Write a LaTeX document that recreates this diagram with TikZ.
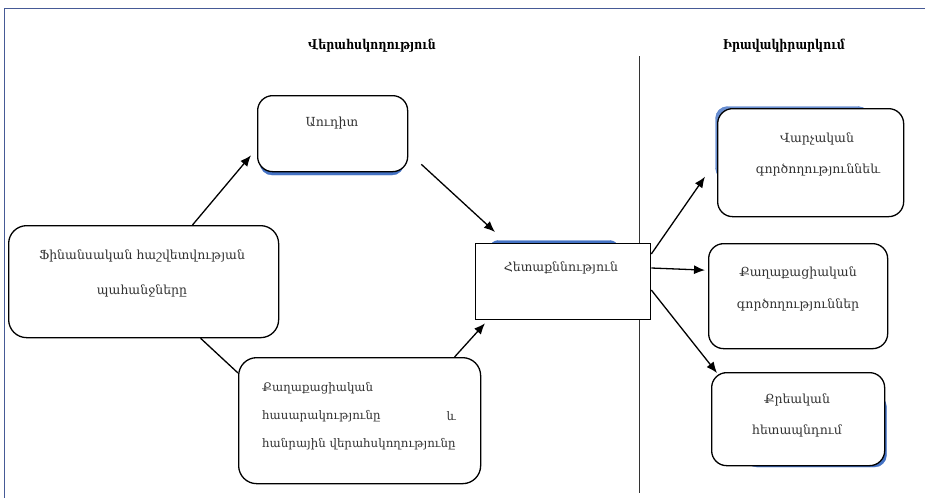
\documentclass[tikz,border=0pt]{standalone}
\usepackage{fontspec}
\setmainfont{DejaVu Serif}
\newfontfamily\headfont{DejaVu Serif}[FakeStretch=0.82]
\usetikzlibrary{arrows.meta,calc}
\definecolor{framec}{RGB}{70,90,150}
\definecolor{shadowc}{RGB}{68,114,196}
\definecolor{textc}{RGB}{50,50,50}
\begin{document}
\begin{tikzpicture}[x=1pt,y=-1pt,
  rbox/.style={draw, fill=white, line width=1.3pt, rounded corners=15pt, inner sep=0pt, anchor=north west},
  sbox/.style={draw, fill=white, line width=1.3pt, inner sep=0pt, anchor=north west},
  lbl/.style={font=\fontsize{12.5}{14}\selectfont, inner sep=0pt, text=textc},
  clbl/.style={font=\fontsize{11.8}{14}\selectfont, inner sep=0pt, text=textc},
  head/.style={font=\headfont\bfseries\fontsize{13.5}{15}\selectfont, inner sep=0pt},
  arr/.style={line width=1.3pt, -{Latex[length=11pt,width=9pt]}},
  conn/.style={line width=1.3pt},
  shad/.style={fill=shadowc, draw=shadowc, rounded corners=12pt}
]
\useasboundingbox (0,0) rectangle (925,498);
% frame
\draw[framec, line width=0.8pt] (925,8) -- (4,8) -- (4,498);
% headings
\node[head] (h1) at (372,46) {Վերահսկողություն};
\node[head] (h2) at (784,46) {Իրավակիրարկում};
% divider
\coordinate (vtop) at (639,56);
\coordinate (vbot) at (639,493);
\draw[line width=0.9pt, black!80] (vtop) -- (vbot);
% shadows
\fill[shad] (260,100) rectangle (404,175);
\fill[shad, rounded corners=8pt] (490,240.5) rectangle (618,300);
\fill[shad, opacity=0.8] (715.5,106.5) rectangle (870,180);
\fill[shad] (745,395) rectangle (886.5,467);
% boxes
\node[rbox, minimum width=150pt, minimum height=76pt] (audit) at (257,95) {};
\node[rbox, minimum width=270pt, minimum height=112pt, rounded corners=18pt] (fin) at (8,225) {};
\node[rbox, minimum width=242pt, minimum height=126pt, rounded corners=18pt] (civ) at (238,357) {};
\node[sbox, minimum width=175pt, minimum height=76pt] (inv) at (475,243) {};
\node[rbox, minimum width=186pt, minimum height=108pt] (adm) at (717,108) {};
\node[rbox, minimum width=179pt, minimum height=105pt] (pol) at (708,243) {};
\node[rbox, minimum width=173pt, minimum height=93pt] (cri) at (711,372) {};
% texts
\node[lbl] (taudit) at (332,123) {Աուդիտ};
\node[lbl] (tfin1) at (142,256) {Ֆինանսական հաշվետվության};
\node[lbl] (tfin2) at (142,291) {պահանջները};
\node[clbl, anchor=west] (tciv1) at (262,388) {Քաղաքացիական};
\node[clbl, anchor=west] (tciv2) at (262,416) {հասարակությունը};
\node[clbl, anchor=east] (tciv2b) at (456,416) {և};
\node[clbl, anchor=west] (tciv3) at (262,444) {հանրային վերահսկողությունը};
\node[lbl] (tinv) at (561,268) {Հետաքննություն};
\node[lbl] (tadm1) at (817,139) {Վարչական};
\node[lbl] (tadm2) at (818,170) {գործողություննեև};
\node[lbl] (tpol1) at (798,273) {Քաղաքացիական};
\node[lbl] (tpol2) at (798,305) {գործողություններ};
\node[lbl] (tcri1) at (797,400) {Քրեական};
\node[lbl] (tcri2) at (797,431) {հետապնդում};
% connectors
\draw[arr] ($(fin.north west)!0.68!(fin.north east)$) -- ($(audit.south west)+(-6,-17)$);
\draw[arr] ($(audit.south east)+(13,-8)$) -- ($(inv.north west)+(20,-11)$);
\draw[conn] ($(fin.south west)!0.71!(fin.south east)$) -- ($(civ.north west)+(0,16)$);
\draw[arr] ($(civ.north west)!0.89!(civ.north east)$) -- ($(inv.south west)+(10,3)$);
\draw[arr] ($(inv.north east)+(0,11)$) -- ($(adm.west)+(-12,14)$);
\draw[arr] ($(inv.north east)+(0,25)$) -- ($(pol.west)+(-3,-26)$);
\draw[arr] ($(inv.north east)+(0,47)$) -- ($(cri.north west)+(6,1)$);
\end{tikzpicture}
\end{document}
